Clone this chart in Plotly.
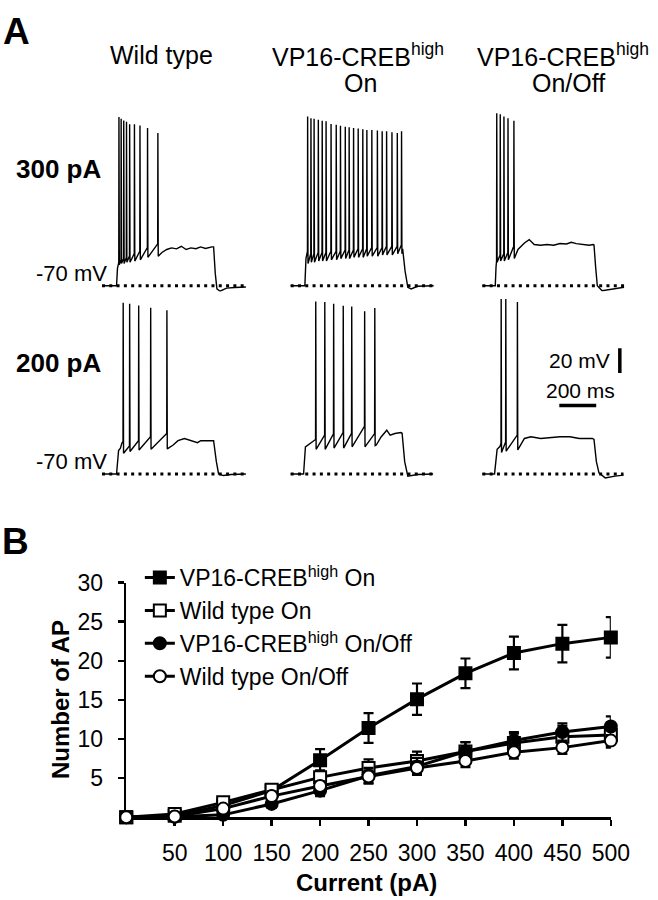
import plotly.graph_objects as go

W, H = 658, 900
FONT = "Liberation Sans"


def px_x(x):
    return x / W


def px_y(y):
    return 1 - y / H


# ---------------- Panel A data (time in ms, membrane potential in mV) ----------------
# Wild type, 300 pA
wt300_pre_t = [0, 79, 84, 88]
wt300_pre_v = [-70, -70, -56, -53]
wt300_spk_t = [91, 103, 117, 132, 149, 175, 205, 246, 302]
wt300_spk_peak = [67, 65.5, 64, 63, 61, 61, 60, 58, 54]
wt300_spk_thr = [-51, -49, -48, -47, -46, -44, -42, -39, -36]
wt300_spk_trough = [-53, -52, -52, -51, -51, -50, -49, -47, -46]
wt300_post_t = [325, 351, 377, 404, 430, 456, 482, 509, 535, 561, 596, 605, 614, 623, 640, 675, 720, 780]
wt300_post_v = [-43, -40.6, -39.3, -40.1, -38, -40.6, -39.3, -40, -38.5, -39.8, -38.5, -38.5, -60, -72.6, -74.5, -72, -71.5, -71]

# VP16-CREB high On, 300 pA
vpon300_pre_t = [0, 77, 83, 88]
vpon300_pre_v = [-70, -70, -48, -42]
vpon300_spk_t = [91, 109, 126, 149, 170, 191, 218, 246, 269, 295, 316, 340, 365, 390, 412, 439, 469, 495, 519, 548, 577, 600]
vpon300_spk_peak = [67.4, 66, 65.5, 64.7, 63.9, 63.4, 61.2, 60.7, 59.9, 59.1, 58.6, 58, 57.5, 57, 56.4, 56.4, 55.9, 55.4, 55.4, 54.6, 54, 55.4]
vpon300_spk_thr = [-42, -44, -44, -43, -43, -43, -42, -42, -42, -41, -41, -41, -40, -40, -40, -39, -39, -39, -38, -38, -38, -37]
vpon300_spk_trough = [-52, -51, -51, -50, -50, -50, -49, -49, -48, -48, -48, -47, -47, -47, -46, -46, -46, -45, -45, -45, -44, -44]
vpon300_post_t = [607, 620, 635, 653, 688, 775]
vpon300_post_v = [-40, -58, -71.3, -72.6, -70.5, -70]

# VP16-CREB high On/Off, 300 pA
vpoff300_pre_t = [0, 70, 74, 76]
vpoff300_pre_v = [-70, -70, -55, -52]
vpoff300_spk_t = [77, 96, 116, 138, 170]
vpoff300_spk_peak = [70, 69.2, 67.4, 66, 63.9]
vpoff300_spk_thr = [-50, -45, -44, -43, -38]
vpoff300_spk_trough = [-51, -50, -50, -49, -48]
vpoff300_post_t = [193, 228, 254, 281, 316, 351, 386, 421, 456, 482, 509, 544, 579, 600, 605, 614, 623, 649, 719, 768]
vpoff300_post_v = [-40.6, -35.3, -32.6, -36.6, -37.2, -36.6, -37.2, -35.8, -36.1, -34.8, -35.8, -36.6, -37.2, -36.6, -37, -55, -70, -74, -72.6, -71.3]

# Wild type, 200 pA
wt200_pre_t = [0, 79, 90, 100, 108]
wt200_pre_v = [-70, -70, -51, -49, -45]
wt200_spk_t = [114, 149, 198, 263, 351]
wt200_spk_peak = [69, 68.2, 66.8, 65, 62.8]
wt200_spk_thr = [-43.8, -47.3, -43, -39.8, -37.2]
wt200_spk_trough = [-53.2, -51.8, -50.5, -50, -49.7]
wt200_post_t = [386, 412, 447, 482, 518, 535, 570, 605, 620, 632, 658, 700, 780]
wt200_post_v = [-46.5, -43, -41.2, -43, -44.6, -43, -43, -43, -60, -70, -71.3, -70.5, -70]

# VP16-CREB high On, 200 pA
vpon200_pre_t = [0, 70, 80, 100, 125]
vpon200_pre_v = [-70, -70, -48, -46, -43]
vpon200_spk_t = [135, 184, 232, 284, 330, 400, 455]
vpon200_spk_peak = [70, 69.5, 68.2, 66.6, 66, 62, 64.7]
vpon200_spk_thr = [-42, -38.5, -37.5, -36.5, -37, -31.3, -37.2]
vpon200_spk_trough = [-50, -50, -49, -49, -48, -48, -47]
vpon200_post_t = [464, 490, 521, 539, 565, 597, 604, 618, 635, 688, 772]
vpon200_post_v = [-46.5, -40, -34.5, -38.5, -37.2, -36.4, -37, -60, -71.8, -70.5, -70]

# VP16-CREB high On/Off, 200 pA
vpoff200_pre_t = [0, 66, 80, 95]
vpoff200_pre_v = [-70, -70, -50, -47.8]
vpoff200_spk_t = [101, 126, 189]
vpoff200_spk_peak = [72, 72, 69.5]
vpoff200_spk_thr = [-45, -44, -38.5]
vpoff200_spk_trough = [-52.6, -51.5, -50.5]
vpoff200_post_t = [228, 263, 316, 368, 421, 474, 526, 579, 596, 605, 618, 632, 666, 719, 765]
vpoff200_post_v = [-41.2, -39.8, -41.2, -40.4, -39.8, -39.8, -41.2, -41.2, -41.2, -42, -60, -69.2, -73.2, -71.8, -71]

resting_mv = -70
scalebar_mv = 20
scalebar_ms = 200

# ---------------- Panel B data ----------------
current_pa = [0, 50, 100, 150, 200, 250, 300, 350, 400, 450, 500]
x_tick_vals = [50, 100, 150, 200, 250, 300, 350, 400, 450, 500]
y_tick_vals = [5, 10, 15, 20, 25, 30]

vp_on = [0, 0.2, 1.5, 3.4, 7.3, 11.4, 15.1, 18.4, 21.0, 22.2, 23.0]
vp_on_err = [0, 0.2, 0.4, 0.6, 1.4, 1.9, 2.0, 1.9, 2.1, 2.4, 2.6]
wt_on = [0, 0.4, 1.9, 3.5, 5.1, 6.3, 7.2, 8.4, 9.5, 10.3, 10.5]
wt_on_err = [0, 0.2, 0.5, 0.6, 0.9, 1.1, 1.2, 1.2, 1.2, 1.4, 1.6]
vp_onoff = [0, 0.05, 0.3, 1.7, 3.4, 5.3, 6.5, 8.4, 9.8, 10.9, 11.6]
vp_onoff_err = [0, 0.1, 0.3, 0.5, 0.7, 1.0, 1.1, 1.2, 1.1, 1.1, 1.3]
wt_onoff = [0, 0.1, 1.1, 2.7, 4.0, 5.2, 6.3, 7.2, 8.3, 8.9, 9.8]
wt_onoff_err = [0, 0.1, 0.4, 0.6, 0.6, 0.8, 0.8, 0.8, 0.8, 0.8, 0.7]

series_names = ["VP16-CREB<sup>high</sup> On", "Wild type On",
                "VP16-CREB<sup>high</sup> On/Off", "Wild type On/Off"]


def build_trace(pre_t, pre_v, st, sp, sthr, strough, post_t, post_v):
    xs, ys = list(pre_t), list(pre_v)
    for t, p, a, b in zip(st, sp, sthr, strough):
        xs += [t, t + 1, t + 3]
        ys += [a, p, b]
    xs += list(post_t)
    ys += list(post_v)
    return xs, ys


traces_A = [
    (1, build_trace(wt300_pre_t, wt300_pre_v, wt300_spk_t, wt300_spk_peak, wt300_spk_thr, wt300_spk_trough, wt300_post_t, wt300_post_v)),
    (2, build_trace(vpon300_pre_t, vpon300_pre_v, vpon300_spk_t, vpon300_spk_peak, vpon300_spk_thr, vpon300_spk_trough, vpon300_post_t, vpon300_post_v)),
    (3, build_trace(vpoff300_pre_t, vpoff300_pre_v, vpoff300_spk_t, vpoff300_spk_peak, vpoff300_spk_thr, vpoff300_spk_trough, vpoff300_post_t, vpoff300_post_v)),
    (4, build_trace(wt200_pre_t, wt200_pre_v, wt200_spk_t, wt200_spk_peak, wt200_spk_thr, wt200_spk_trough, wt200_post_t, wt200_post_v)),
    (5, build_trace(vpon200_pre_t, vpon200_pre_v, vpon200_spk_t, vpon200_spk_peak, vpon200_spk_thr, vpon200_spk_trough, vpon200_post_t, vpon200_post_v)),
    (6, build_trace(vpoff200_pre_t, vpoff200_pre_v, vpoff200_spk_t, vpoff200_spk_peak, vpoff200_spk_thr, vpoff200_spk_trough, vpoff200_post_t, vpoff200_post_v)),
]

fig = go.Figure()

PX_PER_MS = 0.19
PX_PER_MV = 1.25
T_RANGE = [-10, 790]
V_RANGE = [-80, 78]
col_x0 = [105, 299.3, 496.7]
row_rest_y = [276.7, 467.7]

layout_axes = {}
for idx in range(1, 7):
    col = (idx - 1) % 3
    row = (idx - 1) // 3
    left = col_x0[col] + T_RANGE[0] * PX_PER_MS
    right = col_x0[col] + T_RANGE[1] * PX_PER_MS
    bottom = row_rest_y[row] + (resting_mv - V_RANGE[0]) * PX_PER_MV
    top = row_rest_y[row] - (V_RANGE[1] - resting_mv) * PX_PER_MV
    sx = "" if idx == 1 else str(idx)
    layout_axes["xaxis" + sx] = dict(domain=[px_x(left), px_x(right)], range=T_RANGE,
                                     visible=False, anchor="y" + sx, fixedrange=True)
    layout_axes["yaxis" + sx] = dict(domain=[px_y(bottom), px_y(top)], range=V_RANGE,
                                     visible=False, anchor="x" + sx, fixedrange=True)

for idx, (xs, ys) in traces_A:
    sx = "" if idx == 1 else str(idx)
    # dotted resting-potential reference
    fig.add_trace(go.Scatter(x=[xs[0], xs[-1]], y=[resting_mv, resting_mv], mode="lines",
                             line=dict(color="black", width=3, dash="3px,4.3px"),
                             xaxis="x" + sx, yaxis="y" + sx, showlegend=False, hoverinfo="skip"))
    fig.add_trace(go.Scatter(x=xs, y=ys, mode="lines",
                             line=dict(color="black", width=1.4),
                             xaxis="x" + sx, yaxis="y" + sx, showlegend=False, hoverinfo="skip"))

# scale bars (in the axis of the last trace)
fig.add_trace(go.Scatter(x=[745, 745], y=[12, 12 + scalebar_mv], mode="lines",
                         line=dict(color="black", width=3.5), xaxis="x6", yaxis="y6",
                         showlegend=False, hoverinfo="skip"))
fig.add_trace(go.Scatter(x=[417, 417 + scalebar_ms], y=[-14.5, -14.5], mode="lines",
                         line=dict(color="black", width=3.5), xaxis="x6", yaxis="y6",
                         showlegend=False, hoverinfo="skip"))

# ---------------- Panel B ----------------
b_left, b_right = 130, 629
b_bottom, b_top = 816, 578
layout_axes["xaxis7"] = dict(domain=[px_x(b_left), px_x(b_right)], range=[0, 500], anchor="y7",
                             showline=True, linecolor="black", linewidth=2.5, showgrid=False,
                             zeroline=False, ticks="outside", ticklen=6, tickwidth=2.5,
                             tickcolor="black", tickvals=x_tick_vals,
                             ticktext=[str(v) for v in x_tick_vals], ticklabelstandoff=8,
                             tickfont=dict(family=FONT, size=23, color="black"),
                             layer="below traces", fixedrange=True)
layout_axes["yaxis7"] = dict(domain=[px_y(b_bottom), px_y(b_top)], range=[0, 30], anchor="x7",
                             showline=True, linecolor="black", linewidth=2.5, showgrid=False,
                             zeroline=False, ticks="outside", ticklen=6, tickwidth=2.5,
                             tickcolor="black", tickvals=y_tick_vals,
                             ticktext=[str(v) for v in y_tick_vals], ticklabelstandoff=10,
                             tickfont=dict(family=FONT, size=23, color="black"),
                             layer="below traces", fixedrange=True)

b_series = [
    (vp_on, vp_on_err, "square", "black", series_names[0]),
    (wt_on, wt_on_err, "square", "white", series_names[1]),
    (vp_onoff, vp_onoff_err, "circle", "black", series_names[2]),
    (wt_onoff, wt_onoff_err, "circle", "white", series_names[3]),
]
for vals, errs, sym, fill, name in b_series:
    fig.add_trace(go.Scatter(
        x=current_pa, y=vals, mode="lines+markers", name=name,
        line=dict(color="black", width=3),
        marker=dict(symbol=sym, size=12, color=fill, line=dict(color="black", width=2)),
        error_y=dict(type="data", array=errs, color="black", thickness=2.2, width=5),
        xaxis="x7", yaxis="y7", cliponaxis=False, hoverinfo="skip"))

ann = []


def add_text(text, x, y, size, bold=False, xanchor="center", yanchor="middle", angle=0):
    ann.append(dict(text=("<b>%s</b>" % text) if bold else text, x=px_x(x), y=px_y(y),
                    xref="paper", yref="paper", xanchor=xanchor, yanchor=yanchor,
                    showarrow=False, textangle=angle,
                    font=dict(family=FONT, size=size, color="black")))


add_text("A", 17, 19, 37, bold=True)
add_text("Wild type", 166, 43, 25)
add_text("VP16-CREB<sup>high</sup>", 369, 43, 25)
add_text("On", 371, 71, 25)
add_text("VP16-CREB<sup>high</sup>", 580, 43, 25)
add_text("On/Off", 585, 71, 25)
add_text("300 pA", 106, 158, 26, bold=True, xanchor="right")
add_text("-70 mV", 112, 264, 22, xanchor="right")
add_text("200 pA", 106, 355, 26, bold=True, xanchor="right")
add_text("-70 mV", 112, 455, 22, xanchor="right")
add_text("20 mV", 630, 353, 21, xanchor="right")
add_text("200 ms", 598, 383, 21)
add_text("B", 16, 536, 37, bold=True)
add_text("Number of AP", 63, 697, 24, bold=True, angle=-90)
add_text("Current (pA)", 377, 882, 24, bold=True)

fig.update_layout(
    width=W, height=H, autosize=False,
    margin=dict(l=0, r=0, t=0, b=0),
    paper_bgcolor="white", plot_bgcolor="white",
    font=dict(family=FONT, color="black"),
    showlegend=True,
    legend=dict(x=px_x(144), y=px_y(551), xanchor="left", yanchor="top",
                font=dict(family=FONT, size=23, color="black"),
                bgcolor="rgba(0,0,0,0)", tracegroupgap=0, itemwidth=30),
    annotations=ann,
    **layout_axes,
)

fig.write_html("out.html", config={"displayModeBar": False, "staticPlot": True},
               post_script="document.body.style.margin='0';document.body.style.overflow='hidden';")
